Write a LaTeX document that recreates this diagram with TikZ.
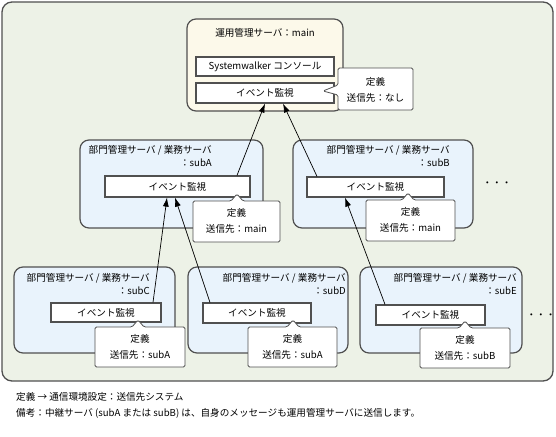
\documentclass[tikz,border=0pt]{standalone}
\usepackage{fontspec}
\setmainfont{Noto Sans CJK JP}
\usetikzlibrary{arrows.meta,calc}
\definecolor{outerbg}{RGB}{237,242,231}
\definecolor{mainbg}{RGB}{252,249,234}
\definecolor{subbg}{RGB}{233,243,252}
\definecolor{edge}{RGB}{80,80,80}
\tikzset{
  txt/.style={font=\fontsize{9.6}{13.5}\selectfont, inner sep=0pt},
  outerbox/.style={draw=edge, line width=1.3pt, fill=outerbg, rounded corners=10pt},
  mainbox/.style={draw=edge, line width=1.2pt, fill=mainbg, rounded corners=9pt},
  subbox/.style={draw=edge, line width=1.2pt, fill=subbg, rounded corners=9pt},
  evbox/.style={draw=edge, line width=1.2pt, fill=white, rectangle, inner sep=0pt, txt},
  callout/.style={draw=edge, line width=0.8pt, fill=white, rounded corners=1.5pt},
  flow/.style={draw=black, line width=0.7pt, -{Latex[length=9pt,width=6pt]}},
}
% callout with pointer on top: x1,y1,x2,y2,px,py
\newcommand{\topcallout}[6]{%
  \draw[callout] (#1,#2) -- (#5-6,#2) -- (#5,#6) -- (#5+6,#2) -- (#3,#2) -- (#3,#4) -- (#1,#4) -- cycle;}
\begin{document}
\begin{tikzpicture}[x=1pt,y=-1pt]
\useasboundingbox (0,0) rectangle (556,436);
% outer frame
\draw[outerbox] (2,2) rectangle (553,381);

% ---------- main server ----------
\draw[mainbox] (187,19) rectangle (343,111);
\node[txt] (tmain) at (265,33) {運用管理サーバ：main};
\node[evbox, minimum width=138pt, minimum height=19pt] (sysw) at (265,66.5) {Systemwalker コンソール};
\node[evbox, minimum width=138pt, minimum height=20pt] (evM) at (265,93) {イベント監視};
\draw[callout] (338,68) -- (413,68) -- (413,110) -- (338,110) -- (338,95) -- (323,91) -- (338,85) -- cycle;
\node[txt] (cmA) at (375.5,82) {定義};
\node[txt] (cmB) at (375.5,98) {送信先：なし};

% ---------- subA ----------
\draw[subbox] (80,140) rectangle (263,228);
\node[txt, align=right, anchor=north east] (tA) at (212,145) {部門管理サーバ / 業務サーバ\\：subA};
\node[evbox, minimum width=145pt, minimum height=21pt] (evA) at (177.5,186.5) {イベント監視};
\topcallout{193}{201}{280}{242}{237}{194}
\node[txt] (cA1) at (236.5,213) {定義};
\node[txt] (cA2) at (236.5,229) {送信先：main};

% ---------- subB ----------
\draw[subbox] (293,140) rectangle (473,228);
\node[txt, align=right, anchor=north east] (tB) at (450,145) {部門管理サーバ / 業務サーバ\\：subB};
\node[evbox, minimum width=137pt, minimum height=20pt] (evB) at (375.5,187) {イベント監視};
\topcallout{366}{200}{455}{241}{408}{193}
\node[txt] (cB1) at (410.5,212) {定義};
\node[txt] (cB2) at (410.5,228) {送信先：main};
\node[txt] (dots1) at (497,184) {・・・};

% ---------- subC ----------
\draw[subbox] (14,267) rectangle (175,353);
\node[txt, align=right, anchor=north east] (tC) at (150,273) {部門管理サーバ / 業務サーバ\\：subC};
\node[evbox, minimum width=110pt, minimum height=19pt] (evC) at (106,312.5) {イベント監視};
\topcallout{95}{327}{185}{367}{138}{320}
\node[txt] (cC1) at (140,339) {定義};
\node[txt] (cC2) at (140,355) {送信先：subA};

% ---------- subD ----------
\draw[subbox] (188,267) rectangle (348,353);
\node[txt, align=right, anchor=north east] (tD) at (346,273) {部門管理サーバ / 業務サーバ\\：subD};
\node[evbox, minimum width=108pt, minimum height=20pt] (evD) at (257,313) {イベント監視};
\topcallout{248}{327}{337}{367}{293}{320}
\node[txt] (cD1) at (292.5,339) {定義};
\node[txt] (cD2) at (292.5,355) {送信先：subA};

% ---------- subE ----------
\draw[subbox] (360,267) rectangle (522,353);
\node[txt, align=right, anchor=north east] (tE) at (517,273) {部門管理サーバ / 業務サーバ\\：subE};
\node[evbox, minimum width=109pt, minimum height=20pt] (evE) at (430.5,315) {イベント監視};
\topcallout{420}{328}{510}{368}{465}{321}
\node[txt] (cE1) at (465,340) {定義};
\node[txt] (cE2) at (465,356) {送信先：subB};
\node[txt] (dots2) at (541,316) {・・・};

% ---------- arrows ----------
\draw[flow] ([xshift=59.5pt]evA.north) -- ([xshift=0pt]evM.south);
\draw[flow] ([xshift=-58.5pt]evB.north) -- ([xshift=18pt]evM.south);
\draw[flow] ([xshift=47pt]evC.north) -- ([xshift=-10.5pt]evA.south);
\draw[flow] ([xshift=-47pt]evD.north) -- ([xshift=-2.5pt]evA.south);
\draw[flow] ([xshift=-45.5pt]evE.north) -- ([xshift=-30.5pt]evB.south);

% ---------- footer ----------
\node[txt, anchor=west] (f1) at (16,397) {定義 → 通信環境設定：送信先システム};
\node[txt, anchor=west] (f2) at (16,413) {備考：中継サーバ (subA または subB) は、自身のメッセージも運用管理サーバに送信します。};
\end{tikzpicture}
\end{document}
